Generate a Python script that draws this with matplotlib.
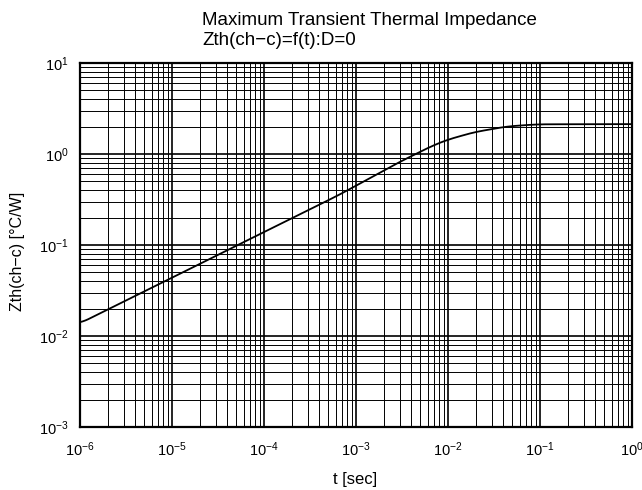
import numpy as np
import matplotlib.pyplot as plt
from matplotlib.ticker import LogLocator, NullFormatter

plt.rcParams['font.family'] = ['Liberation Sans', 'DejaVu Sans']
plt.rcParams['mathtext.fontset'] = 'custom'
plt.rcParams['mathtext.rm'] = 'Liberation Sans'
plt.rcParams['mathtext.it'] = 'Liberation Sans:italic'
plt.rcParams['mathtext.bf'] = 'Liberation Sans:bold'

# transient thermal impedance curve, single pulse (D=0)
t_sec = [1e-6, 1e-5, 1e-4, 6.7e-4, 1.8e-3, 3e-3, 5e-3, 7e-3, 1e-2, 1.9e-2,
         3e-2, 4.3e-2, 7e-2, 1e-1, 1.0]
zth = [0.0138, 0.0437, 0.138, 0.36, 0.62, 0.82, 1.06, 1.25, 1.44, 1.73,
       1.88, 2.0, 2.08, 2.12, 2.13]

W, H = 642, 490
fig = plt.figure(figsize=(W / 100, H / 100), dpi=100)
ax = fig.add_axes([80 / W, 63 / H, 552 / W, 364 / H])

ax.set_xscale('log')
ax.set_yscale('log')
ax.set_xlim(1e-6, 1)
ax.set_ylim(1e-3, 10)

ax.xaxis.set_major_locator(LogLocator(base=10, numticks=10))
ax.xaxis.set_minor_locator(LogLocator(base=10, subs=np.arange(2, 10), numticks=20))
ax.yaxis.set_major_locator(LogLocator(base=10, numticks=10))
ax.yaxis.set_minor_locator(LogLocator(base=10, subs=np.arange(2, 10), numticks=20))
ax.xaxis.set_minor_formatter(NullFormatter())
ax.yaxis.set_minor_formatter(NullFormatter())

ax.grid(which='major', color='black', linewidth=1.2)
ax.grid(which='minor', color='black', linewidth=0.7)
ax.tick_params(which='both', length=0, labelsize=10.5)
ax.tick_params(axis='x', pad=10)
ax.tick_params(axis='y', pad=8)

for s in ax.spines.values():
    s.set_linewidth(1.6)

# smooth the curve by interpolating in log-log space
lt = np.log10(t_sec)
lz = np.log10(zth)
lt_fine = np.linspace(lt[0], lt[-1], 400)
lz_fine = np.interp(lt_fine, lt, lz)
lz_fine = np.convolve(np.pad(lz_fine, 6, mode='edge'), np.ones(13) / 13, mode='valid')
ax.plot(10 ** lt_fine, 10 ** lz_fine, color='black', linewidth=1.3)

ax.set_xlabel('t [sec]', fontsize=12, va='center')
ax.xaxis.set_label_coords((355 - 80) / 552, (427 - 479) / 364)
ax.set_ylabel('Zth(ch\u2212c) [°C/W]', fontsize=11.5, va='center')
ax.yaxis.set_label_coords((18 - 80) / 552, (427 - 251) / 364)

fig.text(202 / W, 1 - 25 / H, 'Maximum Transient Thermal Impedance',
         fontsize=13.5, va='baseline', ha='left')
fig.text(202 / W, 1 - 45 / H, 'Zth(ch\u2212c)=f(t):D=0',
         fontsize=13.5, va='baseline', ha='left')

fig.savefig('out.png', dpi=100)
